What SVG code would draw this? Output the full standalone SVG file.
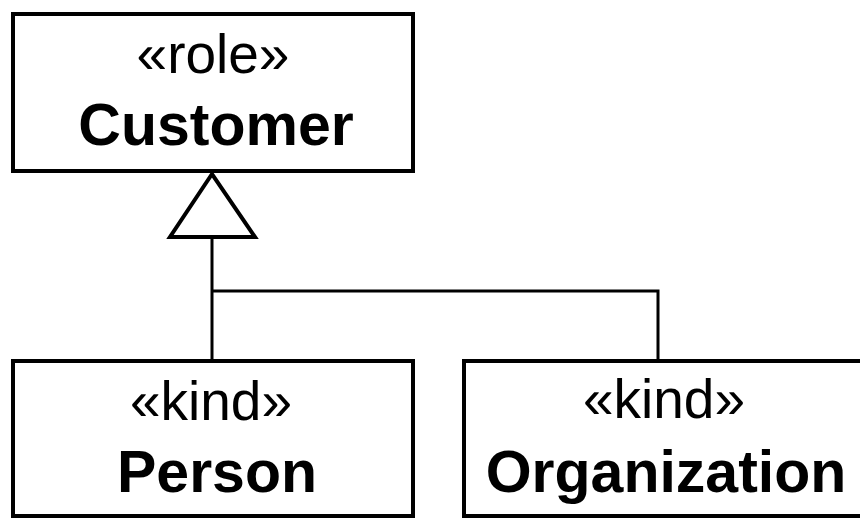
<svg xmlns="http://www.w3.org/2000/svg" width="860" height="518" viewBox="0 0 860 518">
  <style>
    .box { fill: #ffffff; stroke: #000000; stroke-width: 4; }
    .line { fill: none; stroke: #000000; stroke-width: 3; }
    .head { fill: #ffffff; stroke: #000000; stroke-width: 4; stroke-linejoin: miter; }
    .stereo { font-family: "Liberation Sans", Arial, sans-serif; font-size: 55px; text-anchor: middle; fill: #000000; }
    .name { font-family: "Liberation Sans", Arial, sans-serif; font-size: 59px; font-weight: bold; text-anchor: middle; fill: #000000; }
  </style>
  <rect width="860" height="518" fill="#ffffff"/>

  <!-- generalization connectors -->
  <g id="connectors">
    <polyline class="line" points="212,360 212,237"/>
    <polyline class="line" points="212,291 658,291 658,360"/>
    <polygon class="head" points="212,174 170,237 255,237"/>
  </g>

  <g id="customer">
    <rect class="box" x="13" y="14" width="400" height="157"/>
    <text class="stereo" x="213" y="73">«role»</text>
    <text class="name" x="216" y="145">Customer</text>
  </g>

  <g id="person">
    <rect class="box" x="13" y="361" width="400" height="155"/>
    <text class="stereo" x="211" y="420">«kind»</text>
    <text class="name" x="217" y="492">Person</text>
  </g>

  <g id="organization">
    <rect class="box" x="464" y="361" width="420" height="155"/>
    <text class="stereo" x="664" y="418">«kind»</text>
    <text class="name" x="666" y="492">Organization</text>
  </g>
</svg>
